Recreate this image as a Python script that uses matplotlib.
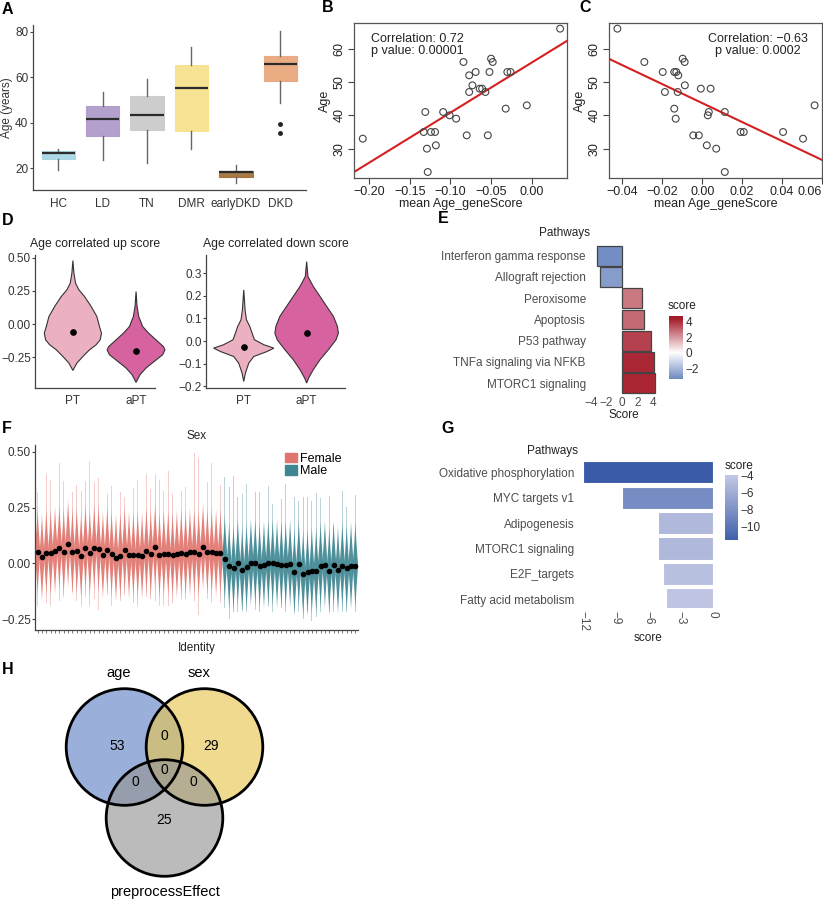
import numpy as np
import matplotlib
matplotlib.use('Agg')
import matplotlib.pyplot as plt
from matplotlib.patches import Polygon, Circle
from matplotlib.colors import LinearSegmentedColormap, Normalize

plt.rcParams['font.family'] = ['Liberation Sans', 'DejaVu Sans']
plt.rcParams['axes.unicode_minus'] = True

# ---------------- data ----------------
# A: age boxplots
a_groups = ['HC', 'LD', 'TN', 'DMR', 'earlyDKD', 'DKD']
a_q1 = [24.1, 34.3, 36.6, 36.2, 16.2, 58.2]
a_med = [26.5, 41.5, 43.4, 55.4, 18.3, 66.0]
a_q3 = [27.4, 47.5, 51.8, 65.4, 18.6, 69.2]
a_wlo = [19.3, 23.4, 22.4, 28.4, 13.6, 48.7]
a_whi = [28.4, 53.4, 59.4, 73.4, 21.3, 80.3]
a_fliers = [[], [], [], [], [], [39.5, 35.4]]
a_colors = ['#A9D7E6', '#B09BCB', '#CBCBCB', '#F6E28E', '#A4733B', '#E9A97C']

# B: up-score vs age
b_x = [-0.208, -0.131, -0.133, -0.124, -0.119, -0.129, -0.118, -0.128, -0.109, -0.101,
       -0.093, -0.080, -0.084, -0.077, -0.069, -0.073, -0.077, -0.064, -0.061, -0.057,
       -0.050, -0.048, -0.052, -0.054, -0.032, -0.030, -0.026, -0.006, 0.035]
b_y = [33, 41, 35, 35, 35, 30, 31, 23, 41, 40,
       39, 34, 56, 52, 53, 49, 47, 48, 48, 47,
       57, 56, 53, 34, 42, 53, 53, 43, 66]

# C: down-score vs age
c_x = [-0.0425, -0.029, -0.0198, -0.0187, -0.014, -0.013, -0.012, -0.0098, -0.0088, -0.0087,
       -0.0123, -0.014, -0.0133, -0.0045, -0.0017, -0.0007, 0.0042, 0.0028, 0.0033, 0.0023,
       0.007, 0.0113, 0.0113, 0.0192, 0.0208, 0.0405, 0.0505, 0.0563]
c_y = [66, 56, 53, 47, 53, 53, 52, 57, 56, 49,
       47, 42, 39, 34, 34, 48, 48, 40, 41, 31,
       30, 41, 23, 35, 35, 35, 33, 43]

# D: violin profiles (score, relative half width) and means
d_up_pt = [(0.478, 0), (0.383, 0.016), (0.308, 0.042), (0.258, 0.095), (0.208, 0.184),
           (0.133, 0.289), (0.058, 0.379), (-0.018, 0.421), (-0.068, 0.453), (-0.118, 0.432),
           (-0.155, 0.368), (-0.193, 0.263), (-0.243, 0.158), (-0.293, 0.063), (-0.348, 0)]
d_up_apt = [(0.245, 0), (0.133, 0.016), (0.058, 0.042), (-0.018, 0.105), (-0.068, 0.2),
            (-0.118, 0.316), (-0.168, 0.432), (-0.193, 0.458), (-0.23, 0.421), (-0.28, 0.289),
            (-0.33, 0.158), (-0.38, 0.063), (-0.438, 0)]
d_dn_pt = [(0.226, 0), (0.138, 0.021), (0.094, 0.043), (0.065, 0.096), (0.035, 0.133),
           (0.006, 0.17), (-0.016, 0.32), (-0.031, 0.479), (-0.046, 0.37), (-0.068, 0.16),
           (-0.097, 0.08), (-0.141, 0.027), (-0.178, 0)]
d_dn_apt = [(0.351, 0), (0.285, 0.021), (0.241, 0.106), (0.197, 0.213), (0.153, 0.319),
            (0.109, 0.426), (0.065, 0.489), (0.035, 0.505), (0.006, 0.468), (-0.038, 0.346),
            (-0.082, 0.213), (-0.126, 0.106), (-0.163, 0.032), (-0.185, 0)]
d_up_means = [-0.06, -0.20]
d_dn_means = [-0.026, 0.035]
d_cats = ['PT', 'aPT']

# E: pathways up/down
e_paths = ['Interferon gamma response', 'Allograft rejection', 'Peroxisome', 'Apoptosis',
           'P53 pathway', 'TNFa signaling via NFKB', 'MTORC1 signaling']
e_score = [-3.26, -2.83, 2.60, 2.87, 3.65, 4.13, 4.22]

# F: sex violins per identity
f_mean_female = [0.052, 0.027, 0.048, 0.046, 0.057, 0.070, 0.052, 0.088, 0.052, 0.055,
                 0.033, 0.070, 0.048, 0.071, 0.064, 0.037, 0.060, 0.042, 0.025, 0.034,
                 0.058, 0.036, 0.037, 0.037, 0.034, 0.055, 0.043, 0.073, 0.036, 0.042,
                 0.043, 0.036, 0.042, 0.046, 0.042, 0.049, 0.049, 0.042, 0.074, 0.051,
                 0.049, 0.045, 0.045]
f_top_female = [0.318, 0.468, 0.403, 0.376, 0.398, 0.449, 0.369, 0.483, 0.320, 0.352,
                0.326, 0.368, 0.454, 0.363, 0.385, 0.260, 0.311, 0.346, 0.250, 0.318,
                0.298, 0.333, 0.337, 0.374, 0.378, 0.403, 0.333, 0.403, 0.376, 0.323,
                0.413, 0.311, 0.323, 0.326, 0.343, 0.330, 0.493, 0.471, 0.291, 0.366,
                0.451, 0.334, 0.352]
f_bot_female = [-0.19, -0.19, -0.18, -0.19, -0.14, -0.17, -0.15, -0.17, -0.13, -0.17,
                -0.19, -0.15, -0.19, -0.16, -0.21, -0.17, -0.14, -0.19, -0.18, -0.17,
                -0.14, -0.17, -0.18, -0.19, -0.17, -0.15, -0.16, -0.17, -0.19, -0.19,
                -0.19, -0.18, -0.17, -0.16, -0.16, -0.17, -0.17, -0.23, -0.19, -0.16,
                -0.18, -0.17, -0.18]
f_mean_male = [0.021, -0.012, -0.021, 0.003, -0.030, -0.015, 0.003, 0.003, -0.012, -0.006,
               0.001, 0.001, -0.003, -0.006, -0.007, -0.001, -0.040, -0.004, -0.046, -0.040,
               -0.033, -0.033, -0.010, -0.006, -0.033, -0.007, -0.031, -0.010, -0.022, -0.010,
               -0.010]
f_top_male = [0.388, 0.343, 0.391, 0.298, 0.313, 0.355, 0.298, 0.320, 0.320, 0.256,
              0.346, 0.265, 0.355, 0.290, 0.355, 0.290, 0.298, 0.280, 0.298, 0.298,
              0.280, 0.316, 0.295, 0.208, 0.301, 0.171, 0.253, 0.325, 0.253, 0.320,
              0.305]
f_bot_male = [-0.20, -0.25, -0.22, -0.22, -0.21, -0.22, -0.19, -0.21, -0.22, -0.20,
              -0.19, -0.22, -0.24, -0.20, -0.22, -0.21, -0.22, -0.22, -0.25, -0.22,
              -0.26, -0.24, -0.22, -0.22, -0.22, -0.22, -0.23, -0.22, -0.22, -0.20,
              -0.22]

# G: pathways
g_paths = ['Oxidative phosphorylation', 'MYC targets v1', 'Adipogenesis', 'MTORC1 signaling',
           'E2F_targets', 'Fatty acid metabolism']
g_score = [-12.0, -8.4, -5.1, -5.1, -4.6, -4.3]

# H: venn counts
h_sets = ['age', 'sex', 'preprocessEffect']
h_counts = {'100': 53, '010': 29, '001': 25, '110': 0, '101': 0, '011': 0, '111': 0}

# ---------------- figure ----------------
W, H = 823, 900
fig = plt.figure(figsize=(8.23, 9.0), dpi=100)
TXT = '#333333'
FS = 8.5


def add_ax(x0, y0, x1, y1):
    return fig.add_axes([x0 / W, 1 - y1 / H, (x1 - x0) / W, (y1 - y0) / H])


def panel_label(x, y, s):
    fig.text(x / W, 1 - y / H, s, fontsize=11.5, fontweight='bold', va='top', ha='left')


def gg_classic(ax):
    for s in ['top', 'right']:
        ax.spines[s].set_visible(False)
    for s in ['left', 'bottom']:
        ax.spines[s].set_color('#444444')
        ax.spines[s].set_linewidth(0.9)
    ax.tick_params(colors='#444444', labelcolor=TXT, labelsize=FS, length=3, width=0.8)


# ---- A ----
ax = add_ax(33, 25, 306, 190)
stats = []
for i in range(len(a_groups)):
    stats.append(dict(med=a_med[i], q1=a_q1[i], q3=a_q3[i], whislo=a_wlo[i],
                      whishi=a_whi[i], fliers=a_fliers[i]))
bp = ax.bxp(stats, positions=range(len(a_groups)), widths=0.75, patch_artist=True,
            showcaps=False,
            whiskerprops=dict(color='#666666', lw=1.0),
            medianprops=dict(color='#2b2b2b', lw=1.6),
            flierprops=dict(marker='o', markersize=2.5, markerfacecolor='#222222',
                            markeredgecolor='#222222'))
for patch, col in zip(bp['boxes'], a_colors):
    patch.set_facecolor(col)
    patch.set_edgecolor(col)
    patch.set_alpha(0.95)
    patch.set_linewidth(0.8)
ax.set_xlim(-0.57, 5.58)
ax.set_ylim(10.4, 83)
ax.set_yticks([20, 40, 60, 80])
ax.set_xticks(range(len(a_groups)))
ax.set_xticklabels(a_groups)
gg_classic(ax)
ax.tick_params(axis='x', length=0, pad=6)
ax.tick_params(axis='y', length=2, pad=1.5)
ax.set_ylabel('Age (years)', fontsize=FS, color=TXT)
ax.yaxis.set_label_coords(-0.072, 0.5)
panel_label(2, 2, 'A')


# ---- B / C ----
def scatter_panel(rect, xs, ys, xlim, xticks, xticklabels, text, text_x, text_ha):
    ax = add_ax(*rect)
    ax.scatter(xs, ys, s=24, facecolors='none', edgecolors='#444444', linewidths=0.8, zorder=3)
    k, b0 = np.polyfit(xs, ys, 1)
    lx = np.array(xlim)
    ax.plot(lx, k * lx + b0, color='#D42020', lw=1.5, zorder=2)
    ax.set_xlim(*xlim)
    ax.set_ylim(21.2, 67.7)
    ax.set_xticks(xticks)
    ax.set_xticklabels(xticklabels)
    ax.set_yticks([30, 40, 50, 60])
    ax.set_yticklabels(['30', '40', '50', '60'], rotation=90, va='center')
    for s in ax.spines.values():
        s.set_color('#555555')
        s.set_linewidth(0.9)
    ax.tick_params(labelsize=9, colors='#444444', labelcolor='#222222', length=4, width=0.8, pad=2)
    ax.set_xlabel('mean Age_geneScore', fontsize=9, color='#222222', labelpad=0)
    ax.set_ylabel('Age', fontsize=9, color='#222222', labelpad=2)
    ax.text(text_x, 0.935, text, transform=ax.transAxes, fontsize=9, ha=text_ha, va='top',
            color='#222222', linespacing=1.0,
            multialignment='center' if text_ha == 'center' else 'left')
    return ax


scatter_panel((354, 23, 567, 178), b_x, b_y, (-0.2188, 0.0435),
              [-0.20, -0.15, -0.10, -0.05, 0.00],
              ['\u22120.20', '\u22120.15', '\u22120.10', '\u22120.05', '0.00'],
              'Correlation: 0.72\np value: 0.00001', 0.08, 'left')
panel_label(322, 0, 'B')
ax_c = scatter_panel((609, 23, 822, 178), c_x, c_y, (-0.0467, 0.060),
                     [-0.04, -0.02, 0.00, 0.02, 0.04, 0.06],
                     ['\u22120.04', '\u22120.02', '0.00', '0.02', '0.04', '0.06'],
                     'Correlation: \u22120.63\np value: 0.0002', 0.70, 'center')
ax_c.get_xticklabels()[-1].set_horizontalalignment('right')
panel_label(579, 0, 'C')


# ---- D ----
def violin_panel(rect, profiles, means, xlim, ylim, yticks, yticklabels, title):
    ax = add_ax(*rect)
    cols = ['#ECB1C0', '#D6639F']
    for i, (prof, m) in enumerate(zip(profiles, means)):
        ys = [p[0] for p in prof]
        ws = [p[1] for p in prof]
        pts = [(i + w, y) for y, w in zip(ys, ws)] + [(i - w, y) for y, w in zip(ys[::-1], ws[::-1])]
        ax.add_patch(Polygon(pts, closed=True, facecolor=cols[i], edgecolor='#333333', lw=0.8,
                             clip_on=False))
        ax.plot(i, m, 'o', color='black', markersize=3.8, zorder=4, clip_on=False)
    ax.set_xlim(*xlim)
    ax.set_ylim(*ylim)
    ax.set_xticks([0, 1])
    ax.set_xticklabels(d_cats)
    ax.set_yticks(yticks)
    ax.set_yticklabels(yticklabels)
    gg_classic(ax)
    ax.tick_params(axis='x', length=0, pad=5)
    ax.tick_params(axis='y', length=2, pad=1)
    ax.set_title(title, fontsize=FS + 0.3, color='#222222', pad=6)
    return ax


violin_panel((35, 255, 155, 388), [d_up_pt, d_up_apt], d_up_means, (-0.6, 1.3), (-0.48, 0.52),
             [-0.25, 0, 0.25, 0.5], ['\u22120.25', '0.00', '0.25', '0.50'],
             'Age correlated up score')
violin_panel((206, 255, 345, 388), [d_dn_pt, d_dn_apt], d_dn_means, (-0.6, 1.61), (-0.207, 0.38),
             [-0.2, -0.1, 0, 0.1, 0.2, 0.3], ['\u22120.2', '\u22120.1', '0.0', '0.1', '0.2', '0.3'],
             'Age correlated down score')
panel_label(2, 213, 'D')

# ---- E ----
ax = add_ax(590, 243, 658, 396)
e_cmap = LinearSegmentedColormap.from_list('e', ['#4467B0', '#FFFFFF', '#A51C2A'])
e_norm = Normalize(-4.4, 4.4)
e_pos = np.arange(len(e_paths))[::-1] + 1
ax.barh(e_pos, e_score, height=0.93, color=e_cmap(e_norm(np.array(e_score))),
        edgecolor='#444444', linewidth=0.9)
ax.set_yticks(e_pos)
ax.set_yticklabels(e_paths)
ax.set_xlim(-4.1, 4.6)
ax.set_ylim(0.4, 7.6)
ax.set_xticks([-4, -2, 0, 2, 4])
ax.set_xticklabels(['\u22124', '\u22122', '0', '2', '4'])
for s in ax.spines.values():
    s.set_visible(False)
ax.tick_params(length=0, labelsize=FS, labelcolor='#4D4D4D', pad=1)
ax.tick_params(axis='y', pad=3, labelsize=8.5)
ax.set_xlabel('Score', fontsize=FS, color='#222222', labelpad=0)
fig.text(565 / W, 1 - 233 / H, 'Pathways', fontsize=FS, ha='center', va='center', color='#222222')
cax = add_ax(669, 316, 683, 379)
grad = np.linspace(-3.4, 4.7, 200).reshape(-1, 1)
cax.imshow(grad, aspect='auto', cmap=e_cmap, norm=e_norm, origin='lower', extent=[0, 1, -3.4, 4.7])
cax.set_xticks([])
cax.yaxis.tick_right()
cax.set_yticks([-2, 0, 2, 4])
cax.set_yticklabels(['\u22122', '0', '2', '4'])
cax.tick_params(axis='y', length=0, labelsize=FS, labelcolor='#333333', pad=2)
for s in cax.spines.values():
    s.set_visible(False)
fig.text(668 / W, 1 - 306 / H, 'score', fontsize=FS, ha='left', va='center', color='#222222')
panel_label(438, 211, 'E')

# ---- F ----
ax = add_ax(35, 445, 358, 630)
col_f = '#E0756D'
col_m = '#3E8691'
groups = [(f_mean_female, f_top_female, f_bot_female, col_f),
          (f_mean_male, f_top_male, f_bot_male, col_m)]
xpos = 0
all_x = []
for means, tops, bots, col in groups:
    for m, t, b in zip(means, tops, bots):
        # thin tails over the full range
        ax.fill([xpos - 0.09, xpos + 0.09, xpos + 0.09, xpos - 0.09], [b, b, t, t],
                color=col, alpha=0.35, lw=0)
        # dense core around the mean
        ys = np.linspace(m - 0.2, m + 0.2, 81)
        hw = 0.64 * np.clip(1 - np.abs(ys - m) / 0.2, 0, None) ** 1.3
        ax.fill(np.concatenate([xpos + hw, (xpos - hw)[::-1]]),
                np.concatenate([ys, ys[::-1]]), color=col, alpha=0.9, lw=0)
        all_x.append(xpos)
        xpos += 1
ax.plot(all_x, f_mean_female + f_mean_male, 'o', color='black', markersize=3.0, zorder=5, ls='none')
ax.set_xlim(-0.6, xpos - 0.4)
ax.set_ylim(-0.299, 0.531)
ax.set_xticks(all_x)
ax.set_xticklabels([])
ax.set_yticks([-0.25, 0, 0.25, 0.5])
ax.set_yticklabels(['\u22120.25', '0.00', '0.25', '0.50'])
gg_classic(ax)
ax.tick_params(axis='x', length=2, width=0.5)
ax.tick_params(axis='y', length=2, pad=1)
ax.set_xlabel('Identity', fontsize=FS, color='#222222', labelpad=3)
ax.set_title('Sex', fontsize=FS, color='#222222', pad=4)
leg_h = [plt.Rectangle((0, 0), 1, 1, color=col_f), plt.Rectangle((0, 0), 1, 1, color=col_m)]
ax.legend(leg_h, ['Female', 'Male'], loc='upper left', bbox_to_anchor=(0.75, 1.0),
          frameon=False, fontsize=9, handlelength=0.95, handleheight=0.85,
          handletextpad=0.3, labelspacing=0.0, borderpad=0.1)
panel_label(2, 421, 'F')

# ---- G ----
ax = add_ax(577, 457, 719, 608)
g_cmap = LinearSegmentedColormap.from_list('g', ['#3A5CA8', '#C4C9E5'])
g_norm = Normalize(-12.0, -3.9)
g_pos = np.arange(len(g_paths))[::-1] + 1
ax.barh(g_pos, g_score, height=0.87, color=g_cmap(g_norm(np.array(g_score))),
        edgecolor='white', linewidth=0.8)
ax.set_yticks(g_pos)
ax.set_yticklabels(g_paths)
ax.set_xlim(-12.6, 0.6)
ax.set_ylim(0.656, 6.6)
ax.set_xticks([-12, -9, -6, -3, 0])
ax.set_xticklabels(['\u221212', '\u22129', '\u22126', '\u22123', '0'], rotation=-90)
for s in ax.spines.values():
    s.set_visible(False)
ax.tick_params(length=0, labelsize=FS, labelcolor='#4D4D4D', pad=2)
ax.tick_params(axis='y', labelsize=8.5)
ax.set_xlabel('score', fontsize=FS, color='#222222', labelpad=1)
fig.text(552 / W, 1 - 451 / H, 'Pathways', fontsize=FS, ha='center', va='center', color='#222222')
cax = add_ax(725, 475, 738, 540)
grad = np.linspace(-11.6, -3.9, 200).reshape(-1, 1)
cax.imshow(grad, aspect='auto', cmap=g_cmap, norm=g_norm, origin='lower', extent=[0, 1, -11.6, -3.9])
cax.set_xticks([])
cax.yaxis.tick_right()
cax.set_yticks([-10, -8, -6, -4])
cax.set_yticklabels(['\u221210', '\u22128', '\u22126', '\u22124'])
cax.tick_params(axis='y', length=0, labelsize=FS, labelcolor='#333333', pad=2)
for s in cax.spines.values():
    s.set_visible(False)
fig.text(725 / W, 1 - 466 / H, 'score', fontsize=FS, ha='left', va='center', color='#222222')
panel_label(441, 421, 'G')

# ---- H ----
ax = add_ax(0, 650, 330, 900)
ax.set_xlim(0, 330)
ax.set_ylim(250, 0)
ax.set_aspect('equal')
ax.axis('off')
r = 58.3
cx0, cy0 = 164.5, 122.0
centers = [(cx0 - 40, cy0 - 25), (cx0 + 40, cy0 - 25), (cx0, cy0 + 46)]
h_fill = ['#6282C6', '#E6C552', '#959595']
for (x, y), c in zip(centers, h_fill):
    ax.add_patch(Circle((x, y), r, facecolor=c, alpha=0.64, edgecolor='none'))
for (x, y) in centers:
    ax.add_patch(Circle((x, y), r, facecolor='none', edgecolor='black', lw=2.0))
(ax_, ay_), (bx_, by_), (px_, py_) = centers
fs_h = 10
ax.text(ax_ - 7, ay_ - 1, str(h_counts['100']), fontsize=fs_h, ha='center', va='center')
ax.text(bx_ + 7, by_ - 1, str(h_counts['010']), fontsize=fs_h, ha='center', va='center')
ax.text(px_, py_ + 2, str(h_counts['001']), fontsize=fs_h, ha='center', va='center')
ax.text(cx0, cy0 - 36, str(h_counts['110']), fontsize=fs_h, ha='center', va='center')
ax.text(cx0 - 29, cy0 + 10, str(h_counts['101']), fontsize=fs_h, ha='center', va='center')
ax.text(cx0 + 29, cy0 + 10, str(h_counts['011']), fontsize=fs_h, ha='center', va='center')
ax.text(cx0, cy0 - 2, str(h_counts['111']), fontsize=fs_h, ha='center', va='center')
ax.text(ax_ - 6, 23, h_sets[0], fontsize=10.5, ha='center', va='center')
ax.text(bx_ - 5, 23, h_sets[1], fontsize=10.5, ha='center', va='center')
ax.text(px_, 242, h_sets[2], fontsize=10.5, ha='center', va='center')
panel_label(2, 662, 'H')

fig.savefig('out.png', dpi=100)
